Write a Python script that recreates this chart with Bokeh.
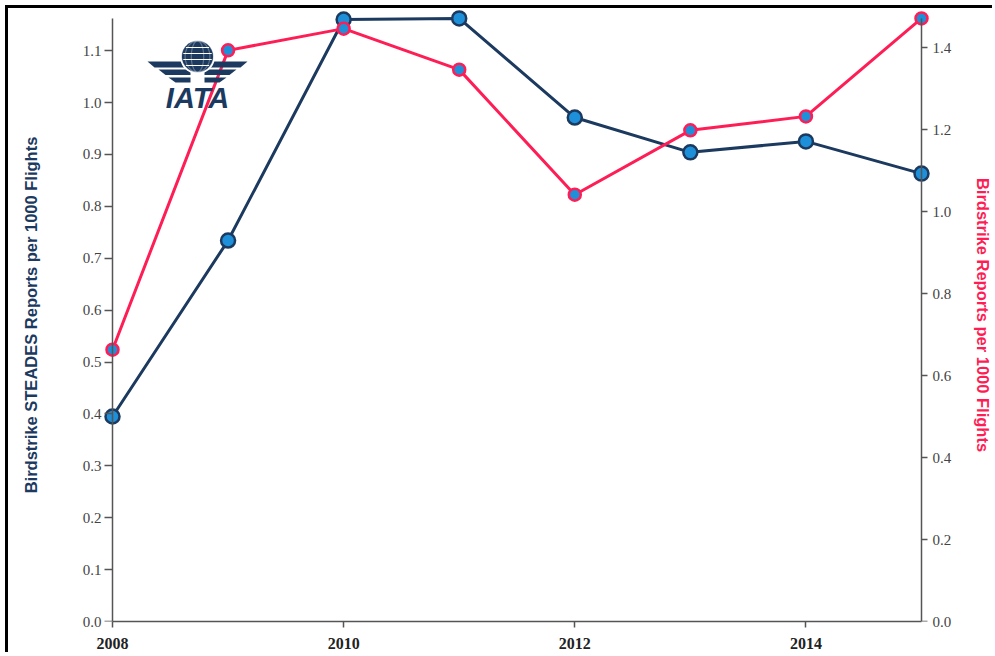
import numpy as np
from bokeh.plotting import figure
from bokeh.models import (Range1d, LinearAxis, FixedTicker, Label, PolyAnnotation,
                          NumeralTickFormatter, ColumnDataSource)
from bokeh.embed import file_html
from bokeh.resources import INLINE

# ---- data ----
years = [2008, 2009, 2010, 2011, 2012, 2013, 2014, 2015]
steades_rate = [0.395, 0.734, 1.160, 1.162, 0.971, 0.904, 0.925, 0.863]
report_rate = [0.663, 1.393, 1.446, 1.346, 1.041, 1.198, 1.232, 1.471]
x_ticks = [2008, 2010, 2012, 2014]
left_ticks = [0.0, 0.1, 0.2, 0.3, 0.4, 0.5, 0.6, 0.7, 0.8, 0.9, 1.0, 1.1]
right_ticks = [0.0, 0.2, 0.4, 0.6, 0.8, 1.0, 1.2, 1.4]
left_max = 1.162
right_max = 1.471

NAVY = "#1c3a5f"
BLUE = "#1e8fd9"
RED = "#ff1d55"
AX = "#555555"
TICK_FONT = "15px"
LABEL_FONT = "16.5px"

W, H = 987, 647
FL, FT, FB = 94, 0, 34
FR = W - 923
frame_w = W - FL - FR
frame_h = H - FT - FB
px_per_year = 115.57
pad = 10 / px_per_year
x0 = years[0] - pad
x1 = x0 + frame_w / px_per_year
left_top = frame_h / 519.0
right_top = frame_h / 410.0

p = figure(width=W, height=H, output_backend="svg", toolbar_location=None,
           x_range=Range1d(x0, x1), y_range=Range1d(0, left_top),
           min_border_left=FL, min_border_right=FR, min_border_top=FT, min_border_bottom=FB,
           x_axis_location=None, y_axis_location=None)
p.extra_y_ranges = {"right": Range1d(0, right_top)}
p.grid.visible = False
p.outline_line_color = None
p.background_fill_color = "white"
p.border_fill_color = "white"

def style_axis(ax, tick_out=6):
    ax.axis_line_color = AX
    ax.axis_line_width = 1.5
    ax.major_tick_line_color = AX
    ax.major_tick_line_width = 1.5
    ax.major_tick_out = tick_out
    ax.major_tick_in = 0
    ax.minor_tick_line_color = None
    ax.major_label_text_font = "Liberation Serif"
    ax.major_label_text_font_size = TICK_FONT
    ax.major_label_text_color = "#444444"

def label_only(ax):
    ax.axis_line_color = None
    ax.major_tick_line_color = None
    ax.minor_tick_line_color = None
    ax.major_tick_out = 0
    ax.major_tick_in = 0
    ax.major_label_text_font = "Liberation Serif"
    ax.major_label_text_font_size = TICK_FONT
    ax.major_label_text_color = "#444444"
    ax.axis_label_text_font = "Liberation Sans"
    ax.axis_label_text_font_style = "bold"
    ax.axis_label_text_font_size = LABEL_FONT

xa = LinearAxis(ticker=FixedTicker(ticks=x_ticks), bounds=(years[0], years[-1]))
style_axis(xa, 6)
xa.major_label_text_font_size = "16px"
xa.major_label_text_font_style = "bold"
xa.major_label_text_color = "#222222"
xa.major_label_standoff = 10
p.add_layout(xa, "below")

# left: labels (at frame edge) + line/ticks fixed at first year
ll = LinearAxis(ticker=FixedTicker(ticks=left_ticks), formatter=NumeralTickFormatter(format="0.0"),
                axis_label="Birdstrike STEADES Reports per 1000 Flights")
label_only(ll)
ll.major_label_standoff = 1
ll.axis_label_standoff = 40
ll.axis_label_text_color = NAVY
p.add_layout(ll, "left")

la = LinearAxis(ticker=FixedTicker(ticks=left_ticks), bounds=(0, left_max), fixed_location=years[0])
style_axis(la, 8)
la.major_label_text_font_size = "0px"
la.major_label_text_color = None
p.add_layout(la, "left")

rl = LinearAxis(y_range_name="right", ticker=FixedTicker(ticks=right_ticks),
                formatter=NumeralTickFormatter(format="0.0"),
                axis_label="Birdstrike Reports per 1000 Flights")
label_only(rl)
rl.major_label_standoff = 1
rl.axis_label_standoff = 20
rl.axis_label_text_color = RED
p.add_layout(rl, "right")

ra = LinearAxis(y_range_name="right", ticker=FixedTicker(ticks=right_ticks), bounds=(0, right_max),
                fixed_location=years[-1])
style_axis(ra, 6)
ra.major_label_text_font_size = "0px"
ra.major_label_text_color = None
p.add_layout(ra, "right")

src = ColumnDataSource(dict(x=years, s=steades_rate, r=report_rate))
p.line("x", "s", source=src, line_color=NAVY, line_width=3)
p.line("x", "r", source=src, line_color=RED, line_width=3, y_range_name="right")
p.scatter("x", "s", source=src, size=14, fill_color=BLUE, line_color=NAVY, line_width=2.5)
p.scatter("x", "r", source=src, size=12, fill_color=BLUE, line_color=RED, line_width=2.5,
          y_range_name="right")

# ---- IATA logo (screen units relative to the frame; page pixel coords converted) ----
FRAME_LEFT_PAGE = 8 + FL
FRAME_BOTTOM_PAGE = 8 + FT + frame_h

def sx(px):
    return px - FRAME_LEFT_PAGE

def sy(py):
    return FRAME_BOTTOM_PAGE - py

cx, cy, rr = 197, 56, 15.5
t = np.linspace(0, 2 * np.pi, 60)
# wings first (globe drawn over them)
for (yt, xl, xr, th) in [(61, 147, 190, 6), (69, 158, 190, 5.5), (77, 168, 190, 5)]:
    for side in (-1, 1):
        a0 = cx + side * (cx - xl)
        a1 = cx + side * (cx - xr)
        xs = [sx(a0), sx(a1), sx(a1), sx(a0 - side * 7)]
        ys = [sy(yt), sy(yt), sy(yt + th), sy(yt + th)]
        p.add_layout(PolyAnnotation(xs=xs, ys=ys, xs_units="screen", ys_units="screen",
                                    fill_color=NAVY, fill_alpha=1, line_color=None))
# white gap around globe
p.add_layout(PolyAnnotation(xs=list(sx(cx + (rr + 2) * np.cos(t))), ys=list(sy(cy + (rr + 2) * np.sin(t))),
                            xs_units="screen", ys_units="screen",
                            fill_color="white", fill_alpha=1, line_color=None))
p.add_layout(PolyAnnotation(xs=list(sx(cx + rr * np.cos(t))), ys=list(sy(cy + rr * np.sin(t))),
                            xs_units="screen", ys_units="screen",
                            fill_color=NAVY, fill_alpha=1, line_color=NAVY))
for k in [0.4, 0.8]:
    p.add_layout(PolyAnnotation(xs=list(sx(cx + k * rr * np.cos(t))), ys=list(sy(cy + rr * np.sin(t))),
                                xs_units="screen", ys_units="screen",
                                fill_alpha=0, line_color="white", line_width=1.2))
for dy in [-9, -3, 3, 9]:
    hw = np.sqrt(rr ** 2 - dy ** 2) - 1
    p.add_layout(PolyAnnotation(xs=[sx(cx - hw), sx(cx + hw), sx(cx + hw), sx(cx - hw)],
                                ys=[sy(cy + dy - 0.6), sy(cy + dy - 0.6), sy(cy + dy + 0.6), sy(cy + dy + 0.6)],
                                xs_units="screen", ys_units="screen",
                                fill_color="white", fill_alpha=1, line_color=None))
p.add_layout(Label(x=sx(197), y=sy(97), x_units="screen", y_units="screen", text="IATA",
                   text_font="Liberation Sans", text_font_style="bold italic",
                   text_font_size="29px", text_color=NAVY, text_align="center",
                   text_baseline="alphabetic"))

p.styles = {"margin-left": "5px", "margin-top": "5px",
            "border-top": "3px solid black", "border-left": "3px solid black"}

open("out.html", "w").write(file_html(p, INLINE))
